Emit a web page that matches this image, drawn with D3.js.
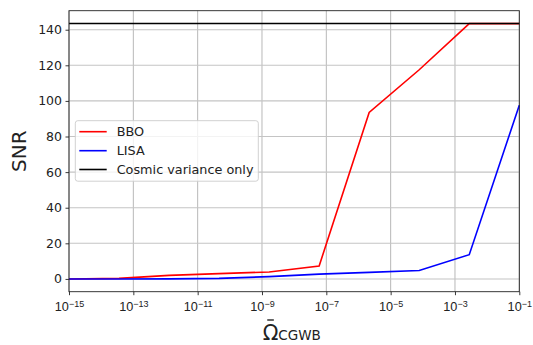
<!DOCTYPE html>
<html><head><meta charset="utf-8">
<script src="https://cdn.jsdelivr.net/npm/d3@7"></script>
<style>body{margin:0;background:#fff} svg{display:block;font-family:"DejaVu Sans",sans-serif}</style>
</head><body><svg id="c" width="533" height="345"></svg>
<script>
const omega = [1e-15, 3.59e-14, 1.29e-12, 4.64e-11, 1.67e-9, 5.99e-8, 2.15e-6, 7.74e-5, 2.78e-3, 1e-1];
const snrBBO = [0, 0.3, 2.0, 3.0, 3.9, 7.3, 93.5, 117.5, 143.4, 143.4];
const snrLISA = [0, 0, 0.05, 0.3, 1.3, 2.7, 3.7, 4.7, 13.6, 97.6];
const cosmicVariance = 143.5;
const xTickExps = [-15, -13, -11, -9, -7, -5, -3, -1];
const yTicks = [0, 20, 40, 60, 80, 100, 120, 140];
const seriesNames = ["BBO", "LISA", "Cosmic variance only"];
const seriesColors = ["#ff0000", "#0000ff", "#000000"];

const svg = d3.select("#c");
const L = 69, R = 519.3, T = 10.7, B = 291.7;
const x = d3.scaleLog().domain([1e-15, 1e-1]).range([L, R]);
const y = d3.scaleLinear().domain([-7.175, 150.675]).range([B, T]);

// grid
const g = svg.append("g");
g.selectAll("line.v").data(xTickExps).join("line")
  .attr("x1", d => x(Math.pow(10, d))).attr("x2", d => x(Math.pow(10, d)))
  .attr("y1", T).attr("y2", B).attr("stroke", "#b0b0b0").attr("stroke-width", 0.9);
g.selectAll("line.h").data(yTicks).join("line")
  .attr("y1", d => y(d)).attr("y2", d => y(d))
  .attr("x1", L).attr("x2", R).attr("stroke", "#c4c4c4").attr("stroke-width", 1.1);

// lines
const line = d3.line().x((d, i) => x(omega[i])).y(d => y(d));
const plot = svg.append("g");
plot.append("path").attr("d", line(snrBBO)).attr("fill", "none").attr("stroke", seriesColors[0]).attr("stroke-width", 1.6);
plot.append("path").attr("d", line(snrLISA)).attr("fill", "none").attr("stroke", seriesColors[1]).attr("stroke-width", 1.6);
plot.append("line").attr("x1", x(1e-15)).attr("x2", x(1e-1)).attr("y1", y(cosmicVariance)).attr("y2", y(cosmicVariance))
  .attr("stroke", seriesColors[2]).attr("stroke-width", 1.6);

// axes
const xAxis = d3.axisBottom(x).tickValues(xTickExps.map(e => Math.pow(10, e))).tickFormat("").tickSizeOuter(0).tickSize(3.5);
const gx = svg.append("g").attr("transform", `translate(0,${B})`).call(xAxis);
gx.select(".domain").remove();
gx.selectAll(".tick line").attr("stroke", "#222").attr("stroke-width", 0.9);
gx.selectAll(".tick").each(function(d, i) {
  const t = d3.select(this).append("text").attr("fill", "#222").attr("y", 19.5)
    .attr("text-anchor", "middle").style("font-size", "12.7px");
  t.append("tspan").text("10");
  t.append("tspan").attr("dy", "-0.5em").style("font-size", "9px").text("\u2212" + Math.abs(xTickExps[i]));
});
const yAxis = d3.axisLeft(y).tickValues(yTicks).tickSizeOuter(0).tickSize(3.5).tickPadding(3.5);
const gy = svg.append("g").attr("transform", `translate(${L},0)`).call(yAxis);
gy.select(".domain").remove();
gy.selectAll(".tick line").attr("stroke", "#222").attr("stroke-width", 0.9);
gy.selectAll(".tick text").attr("fill", "#222").style("font-size", "12.5px").style("font-family", "DejaVu Sans");

// frame
svg.append("rect").attr("x", L).attr("y", T).attr("width", R - L).attr("height", B - T)
  .attr("fill", "none").attr("stroke", "#222").attr("stroke-width", 0.9);

// legend
const lg = svg.append("g");
lg.append("rect").attr("x", 75.3).attr("y", 120.7).attr("width", 183).attr("height", 60.5).attr("rx", 2.5)
  .attr("fill", "#fff").attr("fill-opacity", 0.8).attr("stroke", "#cccccc").attr("stroke-width", 0.9);
const ly = [131.7, 150.7, 169.5];
seriesNames.forEach((n, i) => {
  lg.append("line").attr("x1", 79.3).attr("x2", 106.7).attr("y1", ly[i]).attr("y2", ly[i])
    .attr("stroke", seriesColors[i]).attr("stroke-width", 1.6);
  lg.append("text").attr("x", 116.7).attr("y", ly[i]).attr("dy", "0.36em").attr("fill", "#222")
    .style("font-size", "12.8px").text(n);
});

// axis labels
svg.append("text").attr("transform", `translate(26.4,${(T + B) / 2}) rotate(-90)`).attr("text-anchor", "middle")
  .attr("fill", "#222").style("font-size", "20px").text("SNR");
const xl = svg.append("text").attr("x", 262.7).attr("y", 339.5).attr("fill", "#222").style("font-size", "20.5px");
const om = xl.append("tspan").text("\u03A9");
xl.append("tspan").attr("dy", "0.06em").style("font-size", "13.5px").text("CGWB");
const omW = om.node().getComputedTextLength();
const cx = 262.7 + omW / 2;
svg.append("line").attr("x1", cx - 3.3).attr("x2", cx + 3.3).attr("y1", 320).attr("y2", 320)
  .attr("stroke", "#222").attr("stroke-width", 1.4);
</script></body></html>
